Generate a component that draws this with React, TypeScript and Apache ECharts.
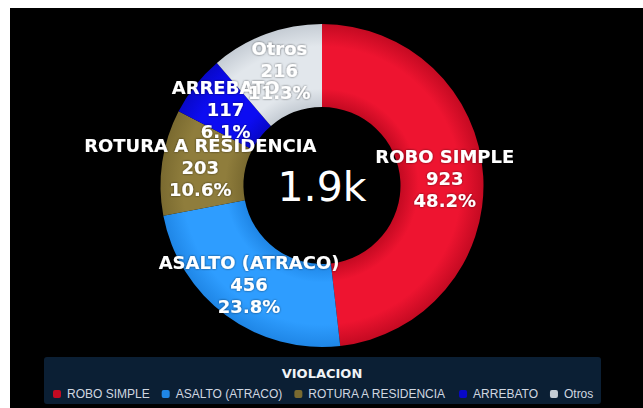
import React, { useEffect, useRef } from "react";
import * as echarts from "echarts";

const categories = ["ROBO SIMPLE", "ASALTO (ATRACO)", "ROTURA A RESIDENCIA", "ARREBATO", "Otros"];
const values = [923, 456, 203, 117, 216];
const legendTitle = "VIOLACION";
const centerLabel = "1.9k";

const baseColors = ["#ee1430", "#2e9dff", "#8f7d3c", "#0c0cf2", "#e2e7ec"];
const edgeColors = ["#c40a22", "#1f86e6", "#7a6a30", "#0808c8", "#c5ccd4"];

const CX = 312;
const CY = 177.5;
const R0 = 78.5;
const R1 = 161.5;

export default function App() {
  const ref = useRef<HTMLDivElement>(null);
  useEffect(() => {
    if (!ref.current) return;
    const chart = echarts.init(ref.current, null, { renderer: "svg" });
    const data = categories.map((name, i) => ({
      name,
      value: values[i],
      itemStyle: {
        color: {
          type: "radial",
          x: CX,
          y: CY,
          r: R1,
          global: true,
          colorStops: [
            { offset: 0, color: edgeColors[i] },
            { offset: R0 / R1, color: edgeColors[i] },
            { offset: 0.6, color: baseColors[i] },
            { offset: 0.86, color: baseColors[i] },
            { offset: 1, color: edgeColors[i] },
          ],
        },
      },
    }));
    chart.setOption({
      animation: false,
      backgroundColor: "#000000",
      color: baseColors,
      graphic: [
        {
          type: "rect",
          shape: { x: 34, y: 349, width: 557, height: 47, r: 3 },
          style: { fill: "#0b1f34" },
          z: -1,
        },
        {
          type: "text",
          x: 312,
          y: 365,
          style: {
            text: legendTitle,
            fill: "#f0f3f7",
            font: "bold 13px 'DejaVu Sans'",
            align: "center",
            verticalAlign: "middle",
          },
        },
        {
          type: "text",
          x: CX,
          y: CY + 1,
          style: {
            text: centerLabel,
            fill: "#ffffff",
            font: "41px 'DejaVu Sans'",
            align: "center",
            verticalAlign: "middle",
          },
        },
      ],
      legend: {
        data: categories,
        left: 38,
        top: 375,
        itemWidth: 8,
        itemHeight: 8,
        itemGap: 12,
        icon: "roundRect",
        textStyle: {
          color: "#d0d7e0",
          fontSize: 12,
          fontFamily: "'Liberation Sans'",
          padding: [0, 0, 0, 1],
        },
      },
      series: [
        {
          type: "pie",
          center: [CX, CY],
          radius: [R0, R1],
          startAngle: 90,
          clockwise: true,
          percentPrecision: 1,
          avoidLabelOverlap: false,
          labelLayout: { hideOverlap: false },
          data,
          label: {
            show: true,
            position: "inside",
            formatter: "{b}\n{c}\n{d}%",
            color: "#ffffff",
            fontSize: 18,
            fontWeight: "bold",
            fontFamily: "'DejaVu Sans'",
            lineHeight: 22,
            textShadowColor: "rgba(0,0,0,0.6)",
            textShadowBlur: 2,
          },
          labelLine: { show: false },
          emphasis: { disabled: true },
        },
      ],
    });
    return () => chart.dispose();
  }, []);
  return (
    <div
      ref={ref}
      style={{ position: "absolute", left: 10, top: 8, width: 633, height: 400 }}
    />
  );
}
